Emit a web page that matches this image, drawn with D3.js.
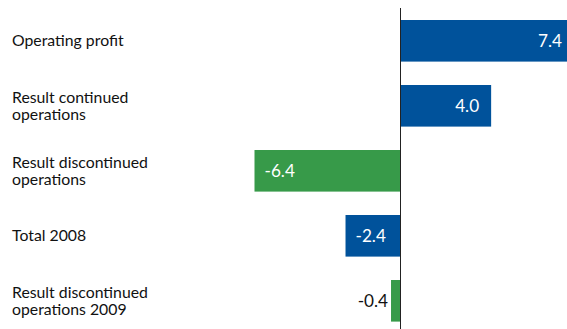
<!DOCTYPE html>
<html>
<head>
<meta charset="utf-8">
<script src="https://cdn.jsdelivr.net/npm/d3@7"></script>
<style>
  html, body { margin: 0; padding: 0; background: #fff; }
  svg { display: block; }
</style>
</head>
<body>
<svg id="chart" width="567" height="329"></svg>
<script>
const categories = [
  ["Operating profit"],
  ["Result continued", "operations"],
  ["Result discontinued", "operations"],
  ["Total 2008"],
  ["Result discontinued", "operations 2009"]
];
const values = [7.4, 4.0, -6.4, -2.4, -0.4];
const valueLabels = ["7.4", "4.0", "-6.4", "-2.4", "-0.4"];
const barColors = ["#00529b", "#00529b", "#379a49", "#00529b", "#379a49"];

const W = 567, H = 329;
const FONT = "Lato, 'DejaVu Sans Condensed', sans-serif";
const svg = d3.select("#chart");

const x = d3.scaleLinear().domain([-6.4, 7.4]).range([254.5, 568.5]);
const y = d3.scaleBand().domain(d3.range(values.length))
  .range([20, 20 + 65 * 4.64]).paddingInner(0.36).paddingOuter(0);

// bars
svg.selectAll("rect.bar").data(values).join("rect")
  .attr("class", "bar")
  .attr("x", d => x(Math.min(0, d)))
  .attr("width", d => Math.abs(x(d) - x(0)))
  .attr("y", (d, i) => y(i))
  .attr("height", y.bandwidth())
  .attr("fill", (d, i) => barColors[i]);

// zero axis line
svg.append("line")
  .attr("x1", Math.round(x(0)) + 0.5).attr("x2", Math.round(x(0)) + 0.5)
  .attr("y1", 8).attr("y2", H)
  .attr("stroke", "#222").attr("stroke-width", 1);

// value labels
svg.selectAll("text.val").data(values).join("text")
  .attr("class", "val")
  .attr("font-family", FONT)
  .attr("font-size", 17.2)
  .attr("y", (d, i) => y(i) + y.bandwidth() / 2)
  .attr("dy", "0.36em")
  .each(function (d, i) {
    const t = d3.select(this);
    const w = Math.abs(x(d) - x(0));
    const inside = w > 40;
    if (d >= 0) {
      const end = x(d) > W ? W - 5 : x(d) - 12;
      t.attr("x", end).attr("text-anchor", "end").attr("fill", "#fff");
    } else if (inside) {
      t.attr("x", x(d) + 10).attr("text-anchor", "start").attr("fill", "#fff");
    } else {
      t.attr("x", x(d) - 3).attr("text-anchor", "end").attr("fill", "#111");
    }
    t.text(valueLabels[i]);
  });

// category labels
const lineH = 17.5;
svg.selectAll("text.cat").data(categories).join("text")
  .attr("class", "cat")
  .attr("font-family", FONT)
  .attr("font-size", 15.8)
  .attr("fill", "#111")
  .each(function (lines, i) {
    const cy = y(i) + y.bandwidth() / 2;
    const t = d3.select(this);
    const first = cy - (lines.length - 1) * lineH / 2;
    lines.forEach((ln, k) => {
      t.append("tspan").attr("x", 12).attr("y", first + k * lineH).attr("dy", "0.36em").text(ln);
    });
  });
</script>
</body>
</html>
